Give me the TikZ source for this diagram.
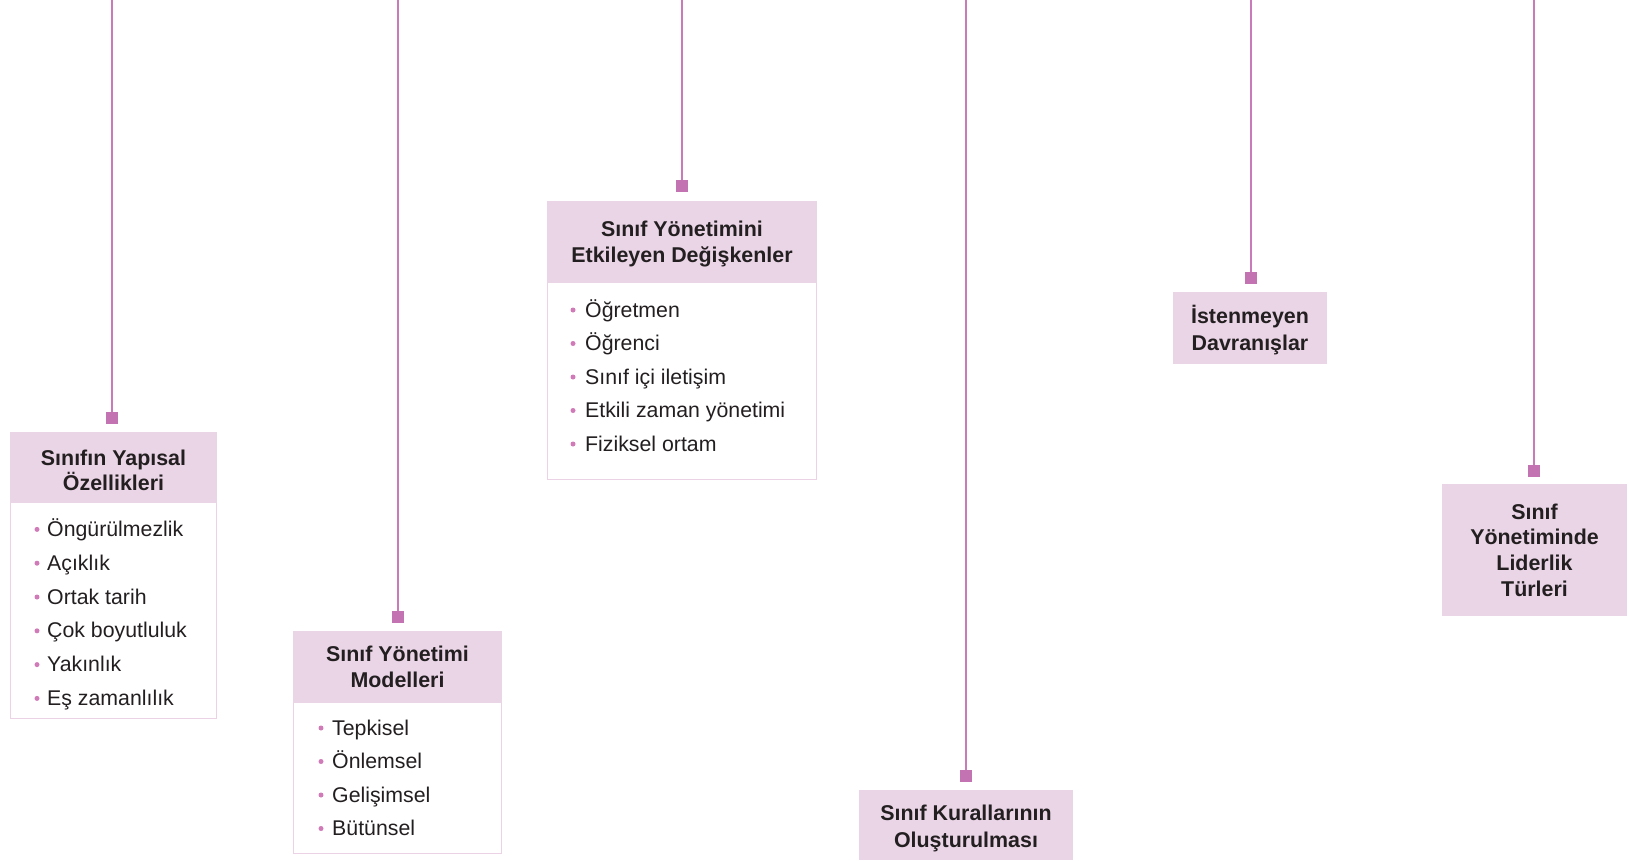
\documentclass[tikz,border=0pt]{standalone}
\usepackage{fontspec}
\setmainfont{Liberation Sans}
\definecolor{lineC}{HTML}{C87BB8}
\definecolor{sqC}{HTML}{C372B2}
\definecolor{hdrC}{HTML}{EAD5E7}
\definecolor{borderC}{HTML}{EBD3E5}
\definecolor{bulC}{HTML}{D07AB8}
\definecolor{txtC}{HTML}{231F20}
\begin{document}
\begin{tikzpicture}[x=1pt,y=-1pt,
  wire/.style={draw=lineC, line width=1.5pt},
  sq/.style={fill=sqC, minimum size=12pt, inner sep=0pt, draw=none},
  hdr/.style={fill=hdrC, inner sep=0pt},
  htxt/.style={inner sep=0pt, align=center, text=txtC,
    font=\fontsize{21.4}{26.5}\selectfont\bfseries},
  bodybox/.style={draw=borderC, line width=1pt, fill=white, inner sep=0pt},
  item/.style={anchor=base west, inner sep=0pt, text=txtC,
    font=\fontsize{21.3}{25}\selectfont},
  bul/.style={circle, fill=bulC, inner sep=0pt, minimum size=5pt}]
\useasboundingbox (0,0) rectangle (1629,860);

% ---- Box 1
\coordinate (t1) at (112,0);
\node[sq] (s1) at (112,418) {};
\draw[wire] (t1) -- (s1);
\node[bodybox, minimum width=206pt, minimum height=286pt] (b1) at (113.5,575) {};
\node[hdr, minimum width=207pt, minimum height=71pt,
  label={[htxt, yshift=-3pt, font=\fontsize{21.4}{25.5}\selectfont\bfseries]center:{Sınıfın Yapısal\\Özellikleri}}] (h1) at (113.5,467.5) {};
\foreach \t [count=\i] in {Öngürülmezlik,Açıklık,Ortak tarih,Çok boyutluluk,Yakınlık,Eş zamanlılık}{
  \node[item] (i1\i) at (47,{536.4+33.8*(\i-1)}) {\t};
  \node[bul] (d1\i) at (37,{536.4+33.8*(\i-1)-7}) {};
}

% ---- Box 2
\coordinate (t2) at (398,0);
\node[sq] (s2) at (398,617) {};
\draw[wire] (t2) -- (s2);
\node[bodybox, minimum width=208pt, minimum height=222pt] (b2) at (397.5,742) {};
\node[hdr, minimum width=209pt, minimum height=72pt,
  label={[htxt]center:{Sınıf Yönetimi\\Modelleri}}] (h2) at (397.5,667) {};
\foreach \t [count=\i] in {Tepkisel,Önlemsel,Gelişimsel,Bütünsel}{
  \node[item] (i2\i) at (332,{735+33.5*(\i-1)}) {\t};
  \node[bul] (d2\i) at (321,{735+33.5*(\i-1)-7}) {};
}

% ---- Box 3
\coordinate (t3) at (682,0);
\node[sq] (s3) at (682,186) {};
\draw[wire] (t3) -- (s3);
\node[bodybox, minimum width=269pt, minimum height=278pt] (b3) at (682,340) {};
\node[hdr, minimum width=270pt, minimum height=82pt,
  label={[htxt, yshift=-2pt]center:{Sınıf Yönetimini\\Etkileyen Değişkenler}}] (h3) at (682,242) {};
\foreach \t [count=\i] in {Öğretmen,Öğrenci,Sınıf içi iletişim,Etkili zaman yönetimi,Fiziksel ortam}{
  \node[item] (i3\i) at (585,{317+33.5*(\i-1)}) {\t};
  \node[bul] (d3\i) at (573,{317+33.5*(\i-1)-7}) {};
}

% ---- Box 4
\coordinate (t4) at (1251,0);
\node[sq] (s4) at (1251,278) {};
\draw[wire] (t4) -- (s4);
\node[hdr, minimum width=154pt, minimum height=72pt,
  label={[htxt, yshift=-2pt, font=\fontsize{21.4}{27}\selectfont\bfseries]center:{İstenmeyen\\Davranışlar}}] (h4) at (1250,328) {};

% ---- Box 5
\coordinate (t5) at (1534,0);
\node[sq] (s5) at (1534,471) {};
\draw[wire] (t5) -- (s5);
\node[hdr, minimum width=185pt, minimum height=132pt,
  label={[htxt, font=\fontsize{21.4}{25.7}\selectfont\bfseries]center:{Sınıf\\Yönetiminde\\Liderlik\\Türleri}}] (h5) at (1534.5,550) {};

% ---- Box 6
\coordinate (t6) at (966,0);
\node[sq] (s6) at (966,776) {};
\draw[wire] (t6) -- (s6);
\node[hdr, minimum width=214pt, minimum height=70pt,
  label={[htxt, yshift=-3pt, font=\fontsize{21.4}{27}\selectfont\bfseries]center:{Sınıf Kurallarının\\Oluşturulması}}] (h6) at (966,825) {};
\end{tikzpicture}
\end{document}
